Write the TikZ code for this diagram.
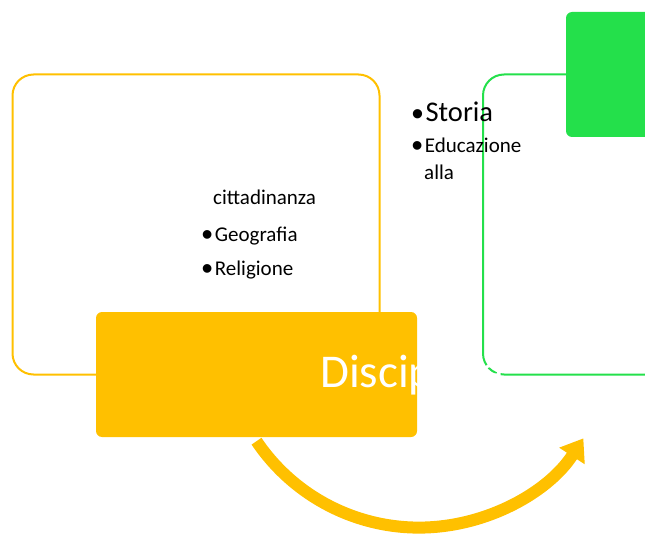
\documentclass[tikz,border=0pt]{standalone}
\usepackage{fontspec}
\setmainfont{Carlito}
\newfontfamily\bulletfont{Liberation Sans}
\usepackage{tikz}
\usetikzlibrary{positioning,arrows.meta}
\definecolor{gold}{HTML}{FFC000}
\definecolor{leaf}{HTML}{24E04B}
\newcommand{\blt}[1]{\raisebox{-4pt}{\bulletfont\fontsize{#1}{#1}\selectfont•}\hspace{2pt}}
\tikzset{
  frame/.style={draw, line width=2pt, rounded corners=21pt, inner sep=0pt},
  filledbox/.style={rounded corners=6pt, inner sep=0pt},
  item/.style={anchor=base west, inner sep=0pt, font=\fontsize{21}{25}\selectfont},
  bigarrow/.style={-{Triangle[length=21pt, width=29pt]}, gold, line width=12pt},
}

\begin{document}
\begin{tikzpicture}[x=1pt, y=1pt]
  \clip (0,0) rectangle (645,539);
  \node[frame, gold, minimum width=367pt, minimum height=300pt] (frameL) at (196,314.5) {};
  \node[frame, leaf, minimum width=377pt, minimum height=300pt] (frameR) at (671.5,314.5) {};
  \node[filledbox, fill=leaf, minimum width=134pt, minimum height=125pt] (greenbox) at (633,464.5) {};
  \node[filledbox, fill=gold, minimum width=321pt, minimum height=125pt] (disc) at (256.5,164.5) {};

  % bullet lists
  \node[item, font=\fontsize{28.5}{33}\selectfont] (storia) at (411.5,417) {\blt{34}Storia};
  \node[item] (educ) at (411.5,386) {\blt{32}Educazione};
  \node[item] (alla) at (424,359) {alla};
  \node[item] (citt) at (213,334) {cittadinanza};
  \node[item] (geo) at (201.5,298) {\blt{32}Geografia};
  \node[item] (rel) at (201.5,264) {\blt{32}Religione};

  \draw[bigarrow] ([yshift=-4pt]disc.south) arc[start angle=214, end angle=327, radius=196];

  \node[anchor=base west, inner sep=0pt, text=white, font=\fontsize{47}{56}\selectfont] (disclabel) at (320,152) {Discipline};
\end{tikzpicture}
\end{document}
